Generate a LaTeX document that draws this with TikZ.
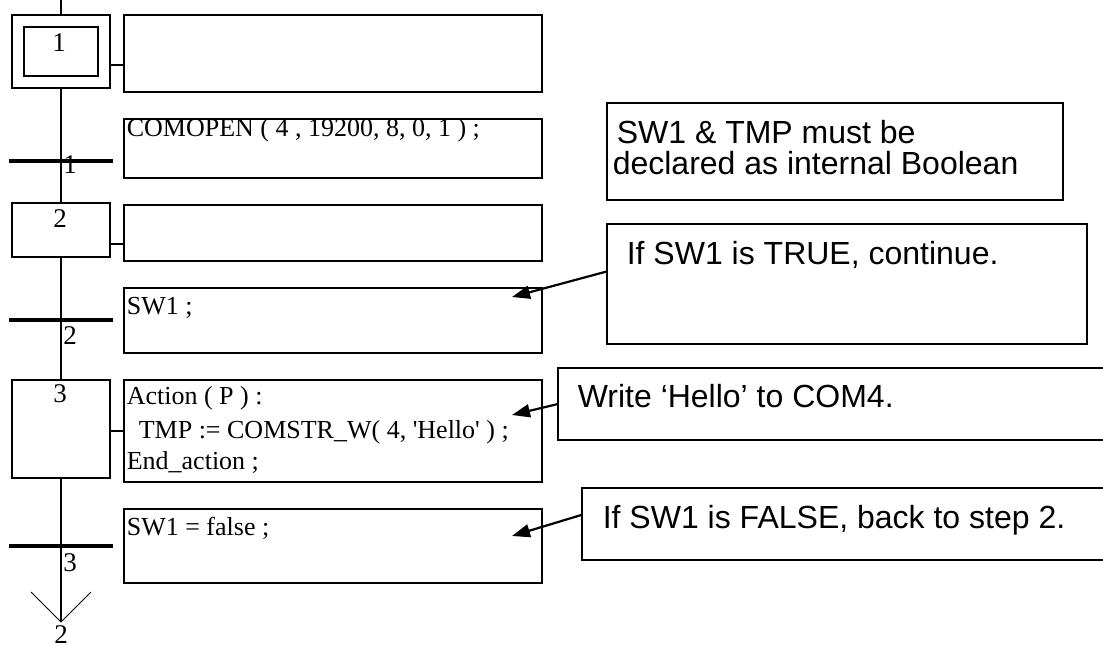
\documentclass[tikz,border=0pt]{standalone}
\usepackage{fontspec}
\setmainfont{Liberation Serif}
\setsansfont{Liberation Sans}
\usetikzlibrary{arrows.meta}

\begin{document}
\begin{tikzpicture}[x=0.5pt,y=-0.5pt,line width=0.8pt,
		box/.style={draw,inner sep=0pt,outer sep=0pt,anchor=north west},
		bar/.style={fill,inner sep=0pt,outer sep=0pt,minimum width=52pt,minimum height=2pt},
		code/.style={anchor=base west,inner sep=0pt,font=\fontsize{13}{16}\selectfont},
		num/.style={anchor=base,inner sep=0pt,font=\fontsize{13.5}{14}\selectfont},
		note/.style={draw,line width=1pt,inner sep=0pt,outer sep=0pt,anchor=north west},
		notetext/.style={anchor=base west,inner sep=0pt,font=\sffamily\fontsize{16}{16}\selectfont},
		arr/.style={-{Triangle[length=9pt,width=6.5pt]},line width=1.1pt}]
			\useasboundingbox (0,0) rectangle (1103,646);
			\clip (0,0) rectangle (1103,646);
			% steps
			\node[box,minimum width=49pt,minimum height=36.5pt] (s1) at (12,15) {};
			\node[box,minimum width=37pt,minimum height=24.5pt] (s1in) at (24,27) {};
			\node[box,minimum width=49pt,minimum height=27pt] (s2) at (12,203) {};
			\node[box,minimum width=49pt,minimum height=49pt] (s3) at (12,380) {};
			\node[num] (n-s1) at (59,52) {1};
			\node[num] (n-s2) at (60,228) {2};
			\node[num] (n-s3) at (60,403) {3};
			% transitions
			\node[bar] (t1) at (61,161) {};
			\node[bar] (t2) at (61,320) {};
			\node[bar] (t3) at (61,546) {};
			\node[num] (n-t1) at (70,174) {1};
			\node[num] (n-t2) at (70,345) {2};
			\node[num] (n-t3) at (70,571) {3};
			% main line
			\coordinate (top) at (61,0);
			\coordinate (end) at (61,622);
			\coordinate (vl) at (31,592);
			\coordinate (vr) at (91,592);
			\draw (top) -- (s1.north);
			\draw (s1.south) -- (s2.north);
			\draw (s2.south) -- (s3.north);
			\draw (s3.south) -- (end);
			\draw[line width=0.5pt] (vl) -- (end) -- (vr);
			\node[num] (n-end) at (61,643) {2};
			% actions and conditions
			\node[box,minimum width=209pt,minimum height=38.5pt] (a1) at (124,15) {};
			\node[box,minimum width=209pt,minimum height=29.5pt] (c1) at (124,119) {};
			\node[box,minimum width=209pt,minimum height=28pt] (a2) at (124,205) {};
			\node[box,minimum width=209pt,minimum height=32.5pt] (c2) at (124,288) {};
			\node[box,minimum width=209pt,minimum height=51pt] (a3) at (124,380) {};
			\node[box,minimum width=209pt,minimum height=37pt] (c3) at (124,509) {};
			\draw (s1.east |- 0,65) -- (a1.west |- 0,65);
			\draw (s2.east |- 0,244) -- (a2.west |- 0,244);
			\draw (s3.east |- 0,431) -- (a3.west |- 0,431);
			\node[code] (x-c1) at (126,137) {COMOPEN ( 4 , 19200, 8, 0, 1 ) ;};
			\node[code] (x-c2) at (126,315) {SW1 ;};
			\node[code] (x-a3a) at (126,405) {Action ( P ) :};
			\node[code] (x-a3b) at (138,438) {TMP := COMSTR\_W( 4, \textquotesingle Hello\textquotesingle\ ) ;};
			\node[code] (x-a3c) at (126,470) {End\_action ;};
			\node[code] (x-c3) at (126,535) {SW1 = false ;};
			% notes
			\node[note,minimum width=228pt,minimum height=48.5pt] (n1) at (607,103) {};
			\node[note,minimum width=240pt,minimum height=60pt] (n2) at (607,224) {};
			\node[note,minimum width=276pt,minimum height=36pt] (n3) at (558,368) {};
			\node[note,minimum width=264pt,minimum height=36pt] (n4) at (582,488) {};
			\node[notetext] (x-n1a) at (616,144) {SW1 \& TMP must be};
			\node[notetext] (x-n1b) at (612,175) {declared as internal Boolean};
			\node[notetext] (x-n2) at (626,265) {If SW1 is TRUE, continue.};
			\node[notetext] (x-n3) at (577,408) {Write `Hello' to COM4.};
			\node[notetext] (x-n4) at (602,528) {If SW1 is FALSE, back to step 2.};
			\coordinate (p2) at (512,297);
			\coordinate (p3) at (512,415);
			\coordinate (p4) at (512,536);
			\draw[arr] (n2.177) -- (p2);
			\draw[arr] (n3.west) -- (p3);
			\draw[arr] (n4.178.5) -- (p4);
		\end{tikzpicture}
\end{document}
